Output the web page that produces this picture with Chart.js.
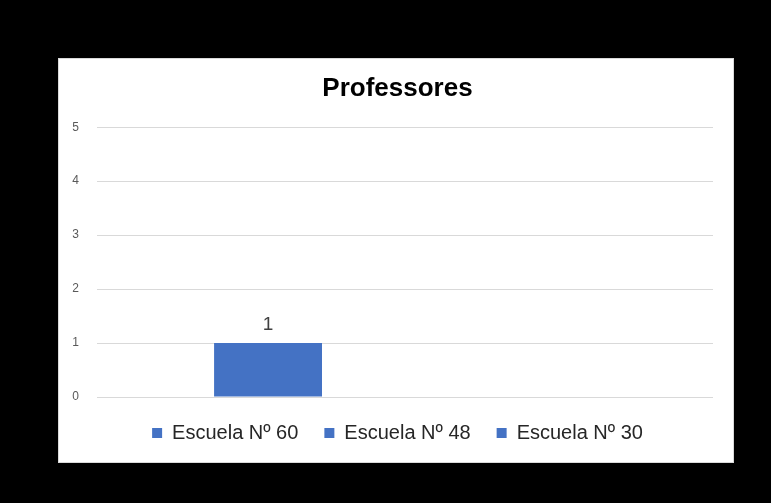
<!DOCTYPE html>
<html>
<head>
<meta charset="utf-8">
<script src="https://cdn.jsdelivr.net/npm/chart.js@4.4.0/dist/chart.umd.min.js"></script>
<style>
  html, body { margin: 0; padding: 0; background: #000; }
  body { width: 771px; height: 503px; position: relative; overflow: hidden; }
  #box {
    position: absolute; left: 58px; top: 58px;
    width: 674px; height: 403px;
    background: #fff; border: 1px solid #d9d9d9;
  }
</style>
</head>
<body>
<div id="box"><canvas id="myChart" width="674" height="403"></canvas></div>
<script>
const categories = [''];
const seriesNames = ['Escuela Nº 60', 'Escuela Nº 48', 'Escuela Nº 30'];
// only the first school has a value, the other two are empty
const seriesValues = [
  [1],
  [null],
  [null],
];
const yTicks = [0, 1, 2, 3, 4, 5];

const barColor = '#4472C4';

// draws the value over each bar, like the excel data labels
const valueLabels = {
  id: 'valueLabels',
  afterDatasetsDraw(chart) {
    const ctx = chart.ctx;
    ctx.save();
    ctx.font = '19px "Liberation Sans", Arial, sans-serif';
    ctx.fillStyle = '#404040';
    ctx.textAlign = 'center';
    ctx.textBaseline = 'alphabetic';
    chart.data.datasets.forEach((ds, i) => {
      const meta = chart.getDatasetMeta(i);
      meta.data.forEach((bar, j) => {
        const v = ds.data[j];
        if (v === null || v === undefined) return;
        ctx.fillText(String(v), bar.x, bar.y - 13);
      });
    });
    ctx.restore();
  }
};

const data = {
  labels: categories,
  datasets: seriesNames.map((name, i) => ({
    label: name,
    data: seriesValues[i],
    backgroundColor: barColor,
    borderWidth: 0,
    categoryPercentage: 0.667,
    barPercentage: 0.788,
  }))
};

const config = {
  type: 'bar',
  data: data,
  options: {
    responsive: false,
    animation: false,
    layout: {
      padding: { top: 14, left: 13, right: 10, bottom: 9 }
    },
    scales: {
      x: {
        display: false,
      },
      y: {
        min: 0,
        max: 5,
        afterBuildTicks(axis) {
          axis.ticks = yTicks.map(v => ({ value: v }));
        },
        afterFit(axis) {
          axis.width = 25;
        },
        border: { display: false },
        grid: { color: '#d9d9d9', lineWidth: 1, drawTicks: false },
        ticks: {
          padding: 18,
          color: '#595959',
          font: { family: '"Liberation Sans", Arial, sans-serif', size: 12 },
        }
      },
      // empty right axis, only keeps the plot off the right edge
      yRight: {
        position: 'right',
        afterFit(axis) {
          axis.width = 10;
        },
        border: { display: false },
        grid: { display: false, drawTicks: false },
        ticks: { display: false }
      }
    },
    plugins: {
      title: {
        display: true,
        text: 'Professores',
        color: '#000',
        font: { family: '"Liberation Sans", Arial, sans-serif', size: 26, weight: 'bold' },
        padding: { top: 0, bottom: 23 }
      },
      legend: {
        position: 'bottom',
        labels: {
          boxWidth: 10,
          boxHeight: 10,
          padding: 26,
          color: '#262626',
          font: { family: '"Liberation Sans", Arial, sans-serif', size: 20 },
        }
      },
      tooltip: { enabled: false }
    }
  },
  plugins: [valueLabels]
};

const myChart = new Chart(
  document.getElementById('myChart'),
  config
);
</script>
</body>
</html>
